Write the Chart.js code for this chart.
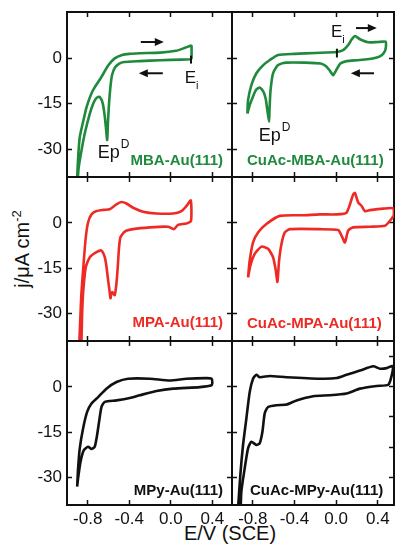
<!DOCTYPE html>
<html>
<head>
<meta charset="utf-8">
<script src="https://cdn.jsdelivr.net/npm/chart.js@4.4.1/dist/chart.umd.min.js"></script>
<style>
  body { margin: 0; background: #fff; width: 396px; height: 550px; position: relative; overflow: hidden;
         font-family: "Liberation Sans", Arial, sans-serif; }
  canvas { position: absolute; }
  .title { position: absolute; font-size: 20px; color: #111; white-space: nowrap; line-height: 1; }
  #ytitle { left: 22px; top: 249px; transform: translate(-50%, -50%) rotate(-90deg); }
  #xtitle { left: 230px; top: 533px; transform: translate(-50%, -50%); }
  sup { font-size: 13px; vertical-align: 8px; line-height: 0; }
</style>
</head>
<body>
<div class="title" id="ytitle">j/μA cm<sup>-2</sup></div>
<div class="title" id="xtitle">E/V (SCE)</div>

<script>
// tick values
const eTicks = [-0.8, -0.4, 0.0, 0.4];
const jTicks = [0, -15, -30];
const jTicksFine = [10, 0, -10, -20, -30];

// MBA-Au(111)
const mbaE = [0.2, 0.1, -0.1, -0.3, -0.45, -0.5, -0.54, -0.565, -0.58, -0.595, -0.605, -0.613, -0.622, -0.635, -0.655, -0.68, -0.7, -0.72, -0.745, -0.78, -0.83, -0.86, -0.887, -0.902,
              -0.905, -0.893, -0.877, -0.845, -0.81, -0.75, -0.67, -0.6, -0.54, -0.47, -0.4, -0.3, -0.1, 0.05, 0.13, 0.19, 0.2, 0.2];
const mbaJ = [-0.4, -0.5, -0.7, -1.0, -1.3, -1.9, -3.2, -5.5, -9, -15, -21, -27, -24, -19.5, -15, -13, -12.8, -13.3, -14.8, -18.3, -25, -30.4, -36, -42,
              -42, -33, -26, -21, -16, -10.6, -6.3, -2.3, -0.1, 1.0, 1.4, 1.6, 1.8, 2.4, 3.3, 4.1, 4.0, -0.4];

// CuAc-MBA-Au(111)
const cuMbaE = [-0.852, -0.846, -0.814, -0.766, -0.7, -0.64, -0.558, -0.4, -0.2, 0.004, 0.067, 0.115, 0.15, 0.18, 0.228, 0.308, 0.4, 0.475, 0.478, 0.47, 0.44, 0.39, 0.3, 0.2, 0.1, 0.04, 0.0, -0.03, -0.06, -0.1, -0.15, -0.3, -0.48, -0.558, -0.606, -0.63, -0.64, -0.644, -0.662, -0.676, -0.7, -0.734, -0.77, -0.8, -0.83, -0.852];
const cuMbaJ = [-18.3, -13.9, -8.9, -5.0, -2.3, -0.7, 1.0, 1.4, 1.7, 2.0, 2.6, 4.3, 6.2, 7.3, 6.2, 5.2, 5.3, 5.4, 4.0, 2.5, 1.0, 0.2, -0.4, -0.7, -1.0, -1.8, -4.0, -5.6, -4.2, -2.6, -1.8, -1.5, -1.5, -2.3, -5, -10.6, -17, -21, -17, -13.5, -11, -9.7, -10.5, -12.8, -15.5, -18.3];

// MPA-Au(111)
const mpaE = [-0.884, -0.872, -0.861, -0.838, -0.819, -0.797, -0.764, -0.716, -0.65, -0.588, -0.524, -0.475, -0.427, -0.363, -0.267, -0.138, 0.022, 0.103, 0.151, 0.193, 0.195, 0.151, 0.07, 0.029, -0.026, -0.2, -0.363, -0.443, -0.485, -0.498, -0.508, -0.518, -0.53, -0.54, -0.552, -0.562, -0.572, -0.581, -0.592, -0.604, -0.62, -0.636, -0.668, -0.716, -0.78, -0.819, -0.845, -0.855, -0.862];
const mpaJ = [-42, -32, -23.4, -12.5, -4.8, 0.1, 2.8, 3.9, 4.3, 4.5, 6.1, 6.9, 6.4, 5.0, 3.7, 3.1, 3.1, 3.9, 5.6, 7.4, 0.7, -0.2, -0.7, -2.1, -1.3, -1.5, -2.1, -2.9, -4.8, -8, -13, -18, -22, -24, -23.5, -23, -23.5, -25, -22, -19, -14.5, -11.4, -9.2, -9.7, -11.4, -14.7, -23.3, -31, -42];

// CuAc-MPA-Au(111)
const cuMpaE = [-0.846, -0.83, -0.798, -0.75, -0.67, -0.541, -0.317, -0.157, 0.004, 0.1, 0.163, 0.18, 0.212, 0.244, 0.276, 0.324, 0.452, 0.55, 0.552, 0.516, 0.468, 0.324, 0.163, 0.115, 0.084, 0.052, 0.019, -0.157, -0.445, -0.493, -0.525, -0.548, -0.564, -0.58, -0.606, -0.654, -0.717, -0.782, -0.823, -0.846];
const cuMpaJ = [-18.1, -12.5, -6.5, -3.2, -0.4, 2.3, 2.5, 2.8, 2.8, 3.4, 9.4, 9.9, 6.7, 5.6, 3.9, 4.2, 4.7, 4.8, 2.5, 0.7, -1.0, -1.3, -1.5, -2.6, -6.5, -4.3, -2.4, -2.1, -2.1, -3.2, -7, -12.5, -19.6, -15.7, -11.4, -8.6, -7.9, -10.3, -14.1, -18.1];

// MPy-Au(111)
const mpyE = [-0.902, -0.893, -0.877, -0.845, -0.806, -0.764, -0.7, -0.62, -0.523, -0.411, -0.2, -0.01, 0.151, 0.344, 0.392, 0.4, 0.392, 0.28, 0.022, -0.138, -0.299, -0.395, -0.523, -0.636, -0.668, -0.691, -0.71, -0.733, -0.764, -0.797, -0.838, -0.87, -0.893, -0.902];
const mpyJ = [-33.1, -27, -20.4, -13.8, -8.3, -5.5, -3.4, -0.6, 1.6, 2.7, 2.7, 2.1, 2.7, 2.9, 2.7, 1.6, 0.5, -0.1, -0.6, -1.4, -2.8, -3.7, -4.5, -5, -6.7, -11.6, -16, -19.9, -20.6, -19.9, -21, -24.9, -30.3, -33.1];

// CuAc-MPy-Au(111)
const cuMpyE = [-0.945, -0.92, -0.894, -0.862, -0.83, -0.798, -0.766, -0.734, -0.638, -0.477, -0.157, 0.004, 0.1, 0.228, 0.356, 0.42, 0.485, 0.542, 0.533, 0.5, 0.388, 0.228, 0.1, -0.061, -0.221, -0.381, -0.477, -0.573, -0.654, -0.686, -0.708, -0.734, -0.766, -0.814, -0.846, -0.878, -0.91, -0.918];
const cuMpyJ = [-42, -29.2, -19.3, -10.5, -1.7, 2.7, 4.0, 3.2, 3.6, 3.2, 2.7, 2.9, 4.0, 5.4, 6.8, 6.0, 6.2, 6.9, 3.8, 0.7, 0.3, -0.6, -2.2, -2.8, -3.1, -4.5, -5.9, -6.1, -6.7, -8.8, -14.9, -18.7, -19.3, -18.2, -20.4, -27, -34.7, -42];

const FONT = '"Liberation Sans", Arial, sans-serif';
const GREEN = '#1f8a3c', RED = '#ee2a24', BLACK = '#111';

// page geometry of the 2x3 grid
const cols = [
  { left: 0,   width: 236, padL: 0, padR: 4, yAxisW: 67, eMax: 0.59 },
  { left: 228, width: 168, padL: 4, padR: 2, yAxisW: 0,  eMax: 0.555 }
];
const rows = [
  { top: 8,   height: 173, padT: 4, padB: 4, xAxisH: 0 },
  { top: 173, height: 172, padT: 4, padB: 4, xAxisH: 0 },
  { top: 337, height: 213, padT: 4, padB: 0, xAxisH: 45 }
];

const panels = [
  { col: 0, row: 0, e: mbaE, j: mbaJ, color: GREEN, label: 'MBA-Au(111)', labelDy: 12,
    arrows: [[-0.289, 5.3, -0.067, 5.3], [-0.077, -5.0, -0.308, -5.0]],
    marks: [[0.195, 0.8, -1.8]],
    texts: [{ t: 'Ep', sup: 'D', at: [-0.704, -33.0] }, { t: 'E', sub: 'i', at: [0.135, -8.3] }] },
  { col: 1, row: 0, e: cuMbaE, j: cuMbaJ, color: GREEN, label: 'CuAc-MBA-Au(111)', labelDy: 12,
    arrows: [[0.19, 9.9, 0.39, 9.9], [0.363, -5.0, 0.141, -5.0]],
    marks: [[0.007, 3.1, 0.2]],
    texts: [{ t: 'Ep', sup: 'D', at: [-0.743, -27.4] }, { t: 'E', sub: 'i', at: [-0.05, 6.9] }] },
  { col: 0, row: 1, e: mpaE, j: mpaJ, color: RED, label: 'MPA-Au(111)', labelDy: 14 },
  { col: 1, row: 1, e: cuMpaE, j: cuMpaJ, color: RED, label: 'CuAc-MPA-Au(111)', labelDy: 13 },
  { col: 0, row: 2, e: mpyE, j: mpyJ, color: BLACK, label: 'MPy-Au(111)', labelDy: 10 },
  { col: 1, row: 2, e: cuMpyE, j: cuMpyJ, color: BLACK, label: 'CuAc-MPy-Au(111)', labelDy: 10, fineRight: true }
];

// panel label, arrows, E_i marks and Ep^D / E_i texts
const decoPlugin = {
  id: 'deco',
  afterDraw(chart, args, o) {
    const { ctx, chartArea: a, scales } = chart;
    const X = v => scales.x.getPixelForValue(v);
    const Y = v => scales.y.getPixelForValue(v);
    ctx.save();
    ctx.fillStyle = o.color;
    ctx.font = 'bold 15px ' + FONT;
    ctx.textBaseline = 'alphabetic';
    if (o.col === 0) {
      ctx.textAlign = 'right';
      ctx.fillText(o.label, a.right - 9, a.bottom - o.labelDy);
    } else {
      ctx.textAlign = 'left';
      ctx.fillText(o.label, a.left + (o.row === 2 ? 18 : 15), a.bottom - o.labelDy);
    }
    ctx.fillStyle = '#111';
    ctx.strokeStyle = '#111';
    ctx.lineWidth = 2;
    (o.arrows || []).forEach(([e1, j1, e2, j2]) => {
      const x1 = X(e1), x2 = X(e2), y = Y(j1);
      const dir = Math.sign(x2 - x1);
      ctx.beginPath();
      ctx.moveTo(x1, y);
      ctx.lineTo(x2 - dir * 7, y);
      ctx.stroke();
      ctx.beginPath();
      ctx.moveTo(x2, y);
      ctx.lineTo(x2 - dir * 9, y - 4);
      ctx.lineTo(x2 - dir * 9, y + 4);
      ctx.closePath();
      ctx.fill();
    });
    (o.marks || []).forEach(([e, j1, j2]) => {
      ctx.beginPath();
      ctx.moveTo(X(e), Y(j1));
      ctx.lineTo(X(e), Y(j2));
      ctx.stroke();
    });
    ctx.textAlign = 'left';
    (o.texts || []).forEach(t => {
      const x = X(t.at[0]), y = Y(t.at[1]);
      if (t.sup) {
        ctx.font = '18px ' + FONT;
        ctx.fillText(t.t, x, y);
        const w = ctx.measureText(t.t).width;
        ctx.font = '12px ' + FONT;
        ctx.fillText(t.sup, x + w + 1, y - 10);
      } else {
        ctx.font = '17px ' + FONT;
        ctx.fillText(t.t, x, y);
        const w = ctx.measureText(t.t).width;
        ctx.font = '11px ' + FONT;
        ctx.fillText(t.sub, x + w, y + 6);
      }
    });
    ctx.restore();
  }
};

function pickTicks(list) {
  return s => { s.ticks = list.map(v => ({ value: v })); };
}

function axis(position, min, max, tickList, size, showLabels, padding) {
  const horizontal = position === 'top' || position === 'bottom';
  return {
    type: 'linear',
    position: position,
    min: min,
    max: max,
    afterBuildTicks: pickTicks(tickList),
    afterFit: s => {
      if (horizontal) s.height = size; else s.width = size;
      // keep the plot rectangle exactly where the layout puts it
      s.paddingLeft = s.paddingRight = s.paddingTop = s.paddingBottom = 0;
    },
    ticks: {
      display: showLabels,
      autoSkip: false,
      maxRotation: 0,
      padding: padding,
      color: '#111',
      font: { family: FONT, size: 17 },
      callback: v => horizontal ? v.toFixed(1) : String(v)
    },
    grid: { drawOnChartArea: false, drawTicks: true, tickLength: -5, tickWidth: 1.5, tickColor: '#111' },
    border: { display: true, color: '#111', width: 2 }
  };
}

panels.forEach(p => {
  const c = cols[p.col], r = rows[p.row];
  const canvas = document.createElement('canvas');
  canvas.width = c.width;
  canvas.height = r.height;
  canvas.style.left = c.left + 'px';
  canvas.style.top = r.top + 'px';
  document.body.appendChild(canvas);

  const yMin = -39.2, yMax = 15.2;
  new Chart(canvas, {
    type: 'scatter',
    data: {
      datasets: [{
        data: p.e.map((e, i) => ({ x: e, y: p.j[i] })),
        showLine: true,
        borderColor: p.color,
        borderWidth: 2.6,
        pointRadius: 0,
        tension: 0.2,
        fill: false
      }]
    },
    options: {
      responsive: false,
      animation: false,
      devicePixelRatio: 1,
      layout: { padding: { left: c.padL, right: c.padR, top: r.padT, bottom: r.padB } },
      plugins: {
        legend: { display: false },
        tooltip: { enabled: false },
        deco: { col: p.col, row: p.row, color: p.color, label: p.label, labelDy: p.labelDy,
                arrows: p.arrows, marks: p.marks, texts: p.texts }
      },
      scales: {
        x: axis('bottom', -1.0, c.eMax, eTicks, r.xAxisH, r.xAxisH > 0, 9),
        x2: axis('top', -1.0, c.eMax, eTicks, 0, false, 0),
        y: axis('left', yMin, yMax, jTicks, c.yAxisW, p.col === 0, 10),
        y2: axis('right', yMin, yMax, p.fineRight ? jTicksFine : jTicks, 0, false, 0)
      }
    },
    plugins: [decoPlugin]
  });
});
</script>
</body>
</html>
